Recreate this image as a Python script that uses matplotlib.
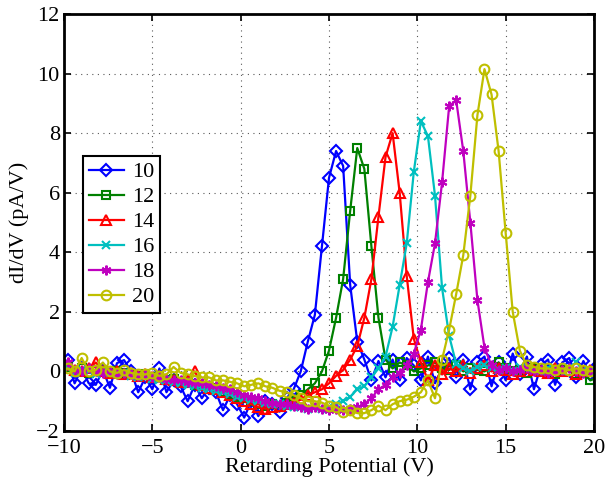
import numpy as np
import matplotlib
matplotlib.use('Agg')
import matplotlib.pyplot as plt

plt.rcParams['font.family'] = ['Liberation Serif', 'DejaVu Serif']
plt.rcParams['axes.unicode_minus'] = True

# retarding potential grid (V), step 0.4 V
volts = np.linspace(-10.2, 20.2, 77)

# dI/dV (pA/V) for each beam energy
y10 = [0.1, 0.38, -0.4, 0.1, -0.4, -0.45, 0.05, -0.55, 0.28, 0.38,
       0.0, -0.7, -0.2, -0.6, 0.1, -0.7, -0.3, -0.5, -1.0, -0.45,
       -0.9, -0.55, -0.7, -1.3, -0.8, -1.1, -1.55, -1.0, -1.5, -1.0,
       -1.1, -1.35, -0.9, -0.6, 0.0, 1.0, 1.9, 4.2, 6.5, 7.4,
       6.9, 2.9, 1.0, 0.4, -0.3, 0.35, -0.2, 0.4, -0.3, 0.45,
       0.2, -0.3, 0.5, -0.4, 0.1, 0.45, -0.2, 0.4, -0.6, 0.3,
       0.5, -0.5, 0.3, -0.3, 0.6, -0.1, 0.5, -0.6, 0.2, 0.4,
       -0.45, 0.3, 0.45, -0.2, 0.35, -0.1, 0.2]
y12 = [0.05, 0.15, 0.0, 0.1, -0.05, 0.05, 0.0, -0.1, 0.0, -0.05,
       -0.1, -0.15, -0.1, -0.2, -0.2, -0.3, -0.25, -0.35, -0.4, -0.45,
       -0.5, -0.6, -0.55, -0.7, -0.75, -0.85, -0.9, -1.0, -1.1, -1.15,
       -1.1, -1.2, -1.05, -1.0, -0.8, -0.6, -0.4, 0.0, 0.7, 1.8,
       3.1, 5.4, 7.5, 6.8, 4.2, 1.8, 0.4, 0.1, 0.3, 0.2,
       0.0, 0.1, 0.2, 0.3, 0.1, 0.05, 0.2, 0.0, 0.1, 0.05,
       0.0, 0.15, 0.3, 0.1, 0.0, 0.05, -0.05, 0.1, 0.0, 0.0,
       -0.1, 0.05, 0.0, -0.1, -0.05, -0.3, -0.2]
y14 = [0.1, 0.2, 0.05, 0.0, 0.1, 0.3, 0.0, -0.05, 0.0, -0.1,
       -0.05, -0.15, -0.1, -0.2, -0.15, -0.25, -0.3, -0.35, -0.3, 0.0,
       -0.45, -0.55, -0.6, -0.7, -0.8, -0.9, -1.0, -1.1, -1.2, -1.25,
       -1.2, -1.15, -1.1, -1.05, -0.95, -0.8, -0.7, -0.6, -0.4, -0.15,
       0.05, 0.4, 0.85, 1.8, 3.1, 5.2, 7.2, 8.0, 6.0, 3.2,
       1.1, 0.3, -0.3, 0.2, -0.1, 0.1, 0.0, 0.2, -0.05, 0.1,
       0.2, 0.0, 0.1, 0.05, -0.1, 0.0, 0.1, 0.05, 0.0, -0.05,
       0.1, 0.0, 0.05, -0.1, 0.0, 0.05, 0.1]
y16 = [0.0, 0.1, -0.05, 0.05, 0.0, -0.1, 0.0, -0.05, -0.1, -0.05,
       -0.15, -0.2, -0.15, -0.25, -0.3, -0.3, -0.35, -0.4, -0.45, -0.5,
       -0.55, -0.6, -0.65, -0.7, -0.75, -0.85, -0.9, -0.95, -1.0, -1.05,
       -1.1, -1.1, -1.15, -1.2, -1.2, -1.25, -1.2, -1.25, -1.2, -1.1,
       -1.0, -0.85, -0.6, -0.5, -0.2, 0.1, 0.5, 1.5, 2.9, 4.3,
       6.7, 8.4, 7.9, 5.9, 2.8, 1.2, 0.25, 0.1, 0.0, 0.15,
       0.2, 0.1, 0.05, 0.1, 0.0, 0.15, 0.1, 0.05, 0.0, 0.1,
       0.05, 0.0, 0.1, 0.3, 0.05, 0.0, 0.05]
y18 = [0.05, 0.3, 0.05, 0.0, 0.1, 0.0, -0.05, 0.0, -0.1, -0.05,
       -0.1, -0.15, -0.1, -0.2, -0.2, -0.25, -0.3, -0.3, -0.35, -0.4,
       -0.4, -0.45, -0.5, -0.55, -0.6, -0.7, -0.8, -0.85, -0.9, -1.0,
       -1.05, -1.1, -1.1, -1.15, -1.2, -1.25, -1.2, -1.25, -1.3, -1.25,
       -1.3, -1.25, -1.2, -1.1, -0.9, -0.6, -0.45, -0.2, -0.05, 0.2,
       0.6, 1.4, 3.0, 4.3, 6.35, 8.9, 9.1, 7.4, 5.0, 2.4,
       0.8, 0.2, 0.05, 0.1, 0.0, 0.05, 0.1, 0.0, 0.05, -0.05,
       0.0, 0.05, 0.1, 0.0, -0.05, 0.0, 0.05]
y20 = [0.05, 0.1, 0.0, 0.45, 0.0, 0.05, 0.3, 0.0, -0.05, 0.05,
       -0.05, -0.1, -0.1, -0.05, -0.15, -0.1, 0.15, -0.05, -0.1, -0.15,
       -0.2, -0.2, -0.3, -0.3, -0.35, -0.4, -0.5, -0.45, -0.4, -0.5,
       -0.55, -0.65, -0.7, -0.8, -0.9, -1.0, -1.0, -1.05, -1.15, -1.2,
       -1.35, -1.3, -1.4, -1.4, -1.3, -1.15, -1.3, -1.1, -1.0, -0.95,
       -0.85, -0.7, -0.3, -0.9, 0.4, 1.4, 2.6, 3.9, 5.9, 8.6,
       10.15, 9.3, 7.4, 4.65, 2.0, 0.7, 0.2, 0.15, 0.1, 0.1,
       0.05, 0.1, 0.05, 0.1, 0.05, 0.0, 0.05]

labels = ['10', '12', '14', '16', '18', '20']
series = [y10, y12, y14, y16, y18, y20]
colors = [(0, 0, 1), (0, 0.5, 0), (1, 0, 0), (0, 0.75, 0.75), (0.75, 0, 0.75), (0.75, 0.75, 0)]
markers = ['D', 's', '^', 'x', (6, 2, 0), 'o']
msizes = [6, 6, 7, 6, 7, 7]

fs = 16

fig = plt.figure(figsize=(6.05, 4.79), dpi=100)
ax = fig.add_axes([64 / 605, 48 / 479, 530 / 605, 417 / 479])

for y, lab, c, m, ms in zip(series, labels, colors, markers, msizes):
    ax.plot(volts, y, color=c, marker=m, markersize=ms, markerfacecolor='none',
            markeredgecolor=c, markeredgewidth=1.5, linewidth=1.6, label=lab)

ax.set_xlim(-10, 20)
ax.set_ylim(-2, 12)
ax.set_xticks(np.arange(-10, 21, 5))
ax.set_yticks(np.arange(-2, 13, 2))
ax.grid(True, color='0.35', linestyle=(0, (1, 4)), linewidth=0.8)
ax.tick_params(direction='in', length=5, width=1.2, labelsize=fs,
               top=True, right=True)
ax.tick_params(axis='x', pad=6)
ax.tick_params(axis='y', pad=3)
for s in ax.spines.values():
    s.set_linewidth(2.0)

ax.set_xlabel('Retarding Potential (V)', fontsize=fs, labelpad=-1)
ax.set_ylabel('dI/dV (pA/V)', fontsize=fs, labelpad=5)

leg = ax.legend(loc='upper left', bbox_to_anchor=(0.036, 0.659), borderaxespad=0,
                fontsize=fs, fancybox=False, framealpha=1, edgecolor='k',
                handlelength=1.6, labelspacing=0.2, borderpad=0.25, handletextpad=0.35)
leg.get_frame().set_linewidth(1.5)

fig.savefig('out.png', dpi=100)
